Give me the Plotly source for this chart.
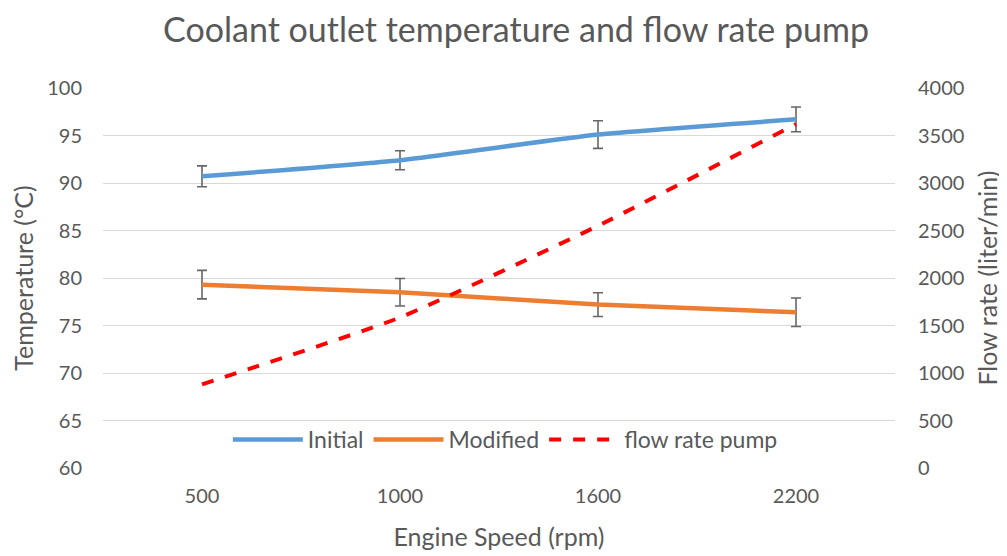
import plotly.graph_objects as go

speeds = ["500", "1000", "1600", "2200"]
initial = [90.7, 92.4, 95.1, 96.7]
initial_err = [1.1, 1.0, 1.45, 1.3]
modified = [79.3, 78.5, 77.2, 76.4]
modified_err = [1.5, 1.45, 1.25, 1.5]
flow = [880, 1585, 2550, 3620]

font = "Lato, Open Sans, sans-serif"
grey = "#595959"

fig = go.Figure()
fig.add_trace(go.Scatter(
    x=speeds, y=initial, name="Initial", mode="lines",
    line=dict(color="#5B9BD5", width=4.5, shape="spline", smoothing=0.5),
    error_y=dict(type="data", array=initial_err, color="#666666", thickness=1.6, width=5),
))
fig.add_trace(go.Scatter(
    x=speeds, y=modified, name="Modified", mode="lines",
    line=dict(color="#ED7D31", width=4.5, shape="spline", smoothing=0.5),
    error_y=dict(type="data", array=modified_err, color="#666666", thickness=1.6, width=5),
))
fig.add_trace(go.Scatter(
    x=speeds, y=flow, name="flow rate pump", mode="lines", yaxis="y2",
    line=dict(color="#FF0000", width=4, dash="dash", shape="spline", smoothing=0.5),
))

fig.update_layout(
    width=1007, height=556,
    paper_bgcolor="white", plot_bgcolor="white",
    margin=dict(l=95, r=120, t=80, b=96),
    font=dict(family=font, color=grey, size=20),
    title=dict(text="Coolant outlet temperature and flow rate pump", x=0.5045, xanchor="center",
               y=0.96, yanchor="middle", font=dict(size=34, color=grey, family=font)),
    xaxis=dict(title=dict(text="Engine Speed (rpm)", font=dict(size=25), standoff=22),
               range=[-0.5, 3.5], showgrid=False, showline=False, ticks="",
               ticklabelstandoff=14, tickfont=dict(size=20)),
    yaxis=dict(title=dict(text="Temperature (°C)", font=dict(size=25), standoff=8),
               range=[60, 100], dtick=5, showgrid=True, gridcolor="#D9D9D9", gridwidth=1.3,
               zeroline=False, showline=False, ticks="", ticklabelstandoff=20,
               tickfont=dict(size=20)),
    yaxis2=dict(title=dict(text="Flow rate (liter/min)", font=dict(size=25), standoff=16),
                overlaying="y", side="right", range=[0, 4000], dtick=500, showgrid=False,
                zeroline=False, showline=False, ticks="", ticklabelstandoff=22,
                tickfont=dict(size=20)),
    legend=dict(orientation="h", x=0.508, xanchor="center", y=0.075, yanchor="middle",
                bgcolor="rgba(0,0,0,0)", font=dict(size=23, color=grey), itemwidth=70),
    showlegend=True,
)

fig.write_html("out.html")
